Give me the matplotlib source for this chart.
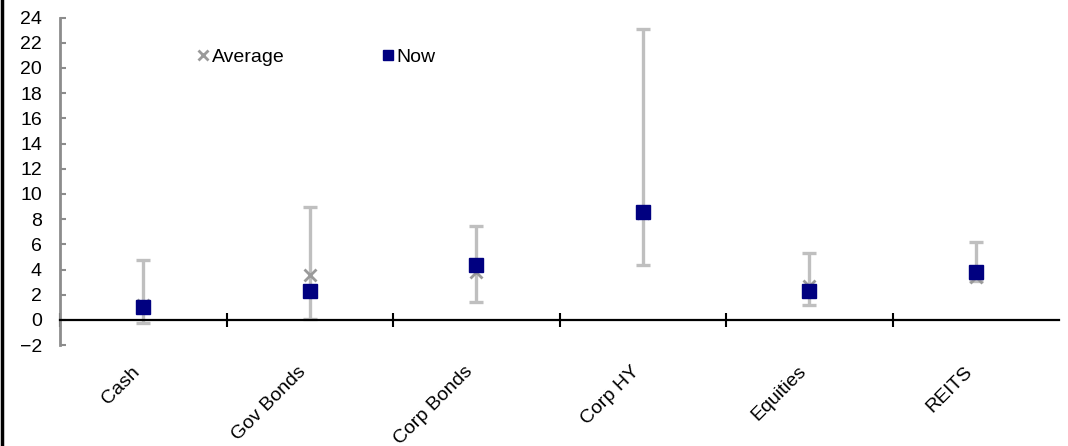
import matplotlib.pyplot as plt
from matplotlib.lines import Line2D
from matplotlib.ticker import FixedLocator

plt.rcParams['font.family'] = ['Liberation Sans', 'DejaVu Sans']

# values (%)
categories = ['Cash', 'Gov Bonds', 'Corp Bonds', 'Corp HY', 'Equities', 'REITS']
range_low = [-0.2, 0.1, 1.4, 4.4, 1.2, 3.1]
range_high = [4.8, 9.0, 7.5, 23.1, 5.3, 6.2]
average = [1.2, 3.6, 3.8, 8.5, 2.7, 3.4]
now = [1.0, 2.3, 4.4, 8.6, 2.3, 3.8]

x = [i + 0.5 for i in range(len(categories))]
err_lo = [a - l for a, l in zip(average, range_low)]
err_hi = [h - a for a, h in zip(average, range_high)]

fig = plt.figure(figsize=(10.68, 4.46), dpi=100)
ax = fig.add_axes([60 / 1068, 1 - 345.2 / 446, 999 / 1068, (345.2 - 17.6) / 446])

# range whiskers + average
ax.errorbar(x, average, yerr=[err_lo, err_hi], fmt='none', ecolor='#bfbfbf',
            elinewidth=2.4, capsize=4.8, capthick=2.4, zorder=2)
ax.plot(x, average, linestyle='none', marker='x', color='#9a9a9a',
        markersize=9, markeredgewidth=2, zorder=3, label='Average')
ax.plot(x, now, linestyle='none', marker='s', color='#000080',
        markersize=9.5, zorder=4, label='Now')

ax.set_xlim(0, len(categories))
ax.set_ylim(-2, 24)
ax.set_yticks(range(-2, 25, 2))

# axes styling
for s in ['top', 'right']:
    ax.spines[s].set_visible(False)
ax.spines['bottom'].set_position(('data', 0))
ax.spines['bottom'].set_color('black')
ax.spines['bottom'].set_linewidth(1.6)
ax.spines['left'].set_color('#8c8c8c')
ax.spines['left'].set_linewidth(2)

ax.xaxis.set_major_locator(FixedLocator(x))
ax.xaxis.set_minor_locator(FixedLocator(range(0, len(categories))))
ax.set_xticklabels(categories, rotation=45, ha='right', fontsize=14)
ax.tick_params(axis='x', which='major', length=0, pad=31)
ax.tick_params(axis='x', which='minor', direction='inout', length=10, width=1.5, color='black')

ax.tick_params(axis='y', direction='in', length=4, width=1.5, color='#8c8c8c',
               labelsize=14, pad=13)

# legend
ax.legend(loc='upper left', bbox_to_anchor=(0.12, 0.96), ncol=2, frameon=False,
          fontsize=14, handlelength=0.6, handletextpad=0.15, columnspacing=5.0,
          markerscale=0.75)

# left border of the original figure frame
fig.add_artist(Line2D([0.0015, 0.0015], [0, 1], color='black', linewidth=2.5,
                      transform=fig.transFigure))

fig.savefig('out.png', dpi=100)
